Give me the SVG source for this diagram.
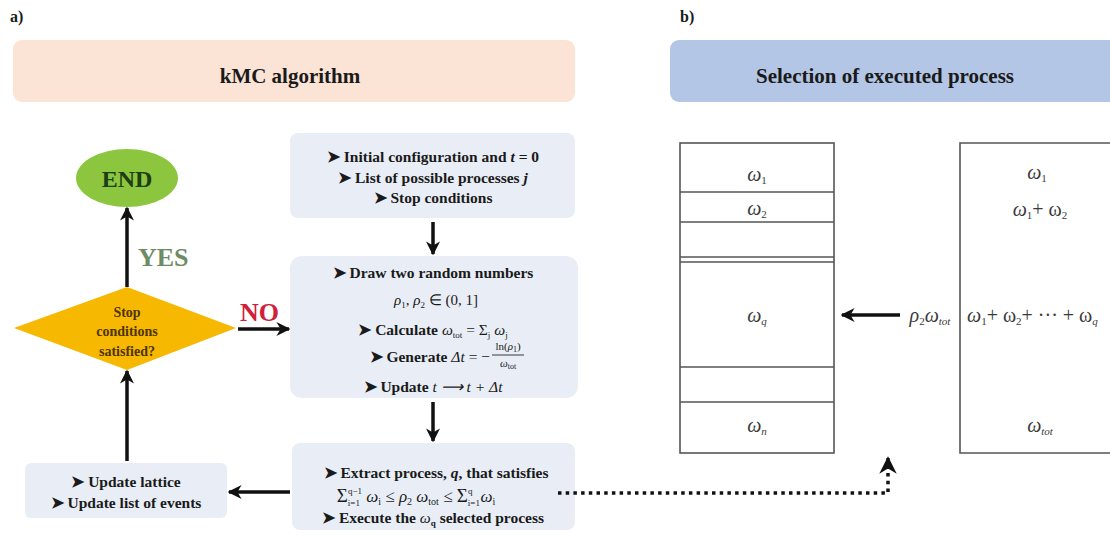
<svg xmlns="http://www.w3.org/2000/svg" width="1110" height="539" viewBox="0 0 1110 539">
<defs>
<marker id="ah" viewBox="0 0 10 10" refX="9" refY="5" markerWidth="4" markerHeight="4" orient="auto-start-reverse"><path d="M0,0 L10,5 L0,10 L3,5 z" fill="#111"/></marker>
<marker id="ahs" viewBox="0 0 10 10" refX="9" refY="5" markerWidth="5" markerHeight="5" orient="auto-start-reverse"><path d="M0,0 L10,5 L0,10 L3,5 z" fill="#111"/></marker>
</defs>
<style>
.t{font-family:"Liberation Serif",serif;font-weight:bold;fill:#1a1a1a;text-anchor:middle}
.s{font-size:15.5px}
.r{font-family:"Liberation Serif",serif;fill:#1a1a1a;font-size:15px}
.d{font-family:"Liberation Serif",serif;font-weight:bold;fill:#4e3400;text-anchor:middle;font-size:14px}
.m{font-family:"Liberation Serif",serif;font-style:italic;fill:#3a3a3a;text-anchor:middle;font-size:20px}
.box{fill:#e9eef6}
.cell{fill:none;stroke:#555;stroke-width:1.6}
.con{stroke:#111;stroke-width:3.5;fill:none}
</style>
<rect width="1110" height="539" fill="#fff"/>
<text x="10" y="22" class="t" style="text-anchor:start;font-size:16px">a)</text>
<text x="680" y="22" class="t" style="text-anchor:start;font-size:16px">b)</text>
<g id="title-a"><rect x="13" y="40" width="562" height="62" rx="9" fill="#fbe3d6"/><text x="290" y="83" class="t" style="font-size:21px">kMC algorithm</text></g>
<g id="title-b"><rect x="670" y="40" width="460" height="62" rx="9" fill="#b3c6e6"/><text x="885" y="83" class="t" style="font-size:21px">Selection of executed process</text></g>
<g id="end"><ellipse cx="127" cy="178" rx="51" ry="29" fill="#8cc63e"/><text x="127" y="187" class="t" style="font-size:24px;fill:#1d3d14">END</text></g>
<g id="decision"><polygon points="127,287 236,328 127,370 14,328" fill="#f6b800"/>
<text x="127" y="317" class="d">Stop</text>
<text x="127" y="336" class="d">conditions</text>
<text x="127" y="356" class="d">satisfied?</text></g>
<g id="init"><rect x="290" y="133" width="285" height="85" rx="8" class="box"/>
<text x="433" y="162" class="t s">➤ Initial configuration and <tspan font-style="italic">t</tspan> = 0</text>
<text x="433" y="183" class="t s">➤ List of possible processes <tspan font-style="italic">j</tspan></text>
<text x="433" y="203" class="t s">➤ Stop conditions</text></g>
<g id="draw"><rect x="290" y="256" width="288" height="142" rx="12" class="box"/>
<text x="433" y="278" class="t s">➤ Draw two random numbers</text>
<text x="436" y="305" class="r" text-anchor="middle"><tspan font-style="italic">ρ</tspan><tspan font-size="9" dy="3">1</tspan><tspan dy="-3">, </tspan><tspan font-style="italic">ρ</tspan><tspan font-size="9" dy="3">2</tspan><tspan dy="-3"> ∈ (0, 1]</tspan></text>
<text x="433" y="335" class="t s">➤ Calculate <tspan font-style="italic" font-weight="normal">ω</tspan><tspan font-size="9" dy="3" font-weight="normal">tot</tspan><tspan dy="-3" font-weight="normal"> = Σ</tspan><tspan font-size="9" dy="3" font-weight="normal">j</tspan><tspan dy="-3" font-style="italic" font-weight="normal"> ω</tspan><tspan font-size="9" dy="3" font-weight="normal">j</tspan></text>
<text x="490" y="362" class="t s" style="text-anchor:end">➤ Generate <tspan font-style="italic" font-weight="normal">Δt</tspan><tspan font-weight="normal"> = −</tspan></text>
<text x="508" y="350" class="r" style="font-size:11px;text-anchor:middle">ln(<tspan font-style="italic">ρ</tspan><tspan font-size="8" dy="2">1</tspan><tspan dy="-2">)</tspan></text>
<line x1="492" y1="355" x2="524" y2="355" stroke="#222" stroke-width="0.9"/>
<text x="508" y="367" class="r" style="font-size:11px;text-anchor:middle"><tspan font-style="italic">ω</tspan><tspan font-size="8" dy="2">tot</tspan></text>
<text x="433" y="392" class="t s">➤ Update <tspan font-style="italic" font-weight="normal">t ⟶ t + Δt</tspan></text></g>
<g id="extract"><rect x="292" y="443" width="283" height="87" rx="8" class="box"/>
<text x="436" y="478" class="t s">➤ Extract process, <tspan font-style="italic">q</tspan>, that satisfies</text>
<text x="416" y="502" class="r" text-anchor="middle" style="font-size:17px"><tspan font-size="19">Σ</tspan><tspan font-size="9" dy="4">i=1</tspan><tspan font-size="9" dx="-12" dy="-12">q−1</tspan><tspan dy="8" font-style="italic"> ω</tspan><tspan font-size="10" dy="3">i</tspan><tspan dy="-3"> ≤ </tspan><tspan font-style="italic">ρ</tspan><tspan font-size="10" dy="3">2</tspan><tspan dy="-3" font-style="italic"> ω</tspan><tspan font-size="10" dy="3">tot</tspan><tspan dy="-3"> ≤ </tspan><tspan font-size="19">Σ</tspan><tspan font-size="9" dy="4">i=1</tspan><tspan font-size="9" dx="-12" dy="-12">q</tspan><tspan dy="8" dx="8" font-style="italic">ω</tspan><tspan font-size="10" dy="3">i</tspan></text>
<text x="433" y="523" class="t s">➤ Execute the <tspan font-style="italic" font-weight="normal">ω</tspan><tspan font-size="9" dy="3">q</tspan><tspan dy="-3"> selected process</tspan></text></g>
<g id="update"><rect x="25" y="463" width="202" height="55" rx="6" class="box"/>
<text x="126" y="487" class="t s">➤ Update lattice</text>
<text x="126" y="508" class="t s">➤ Update list of events</text></g>
<g id="stack"><rect x="680" y="143" width="154" height="310" class="cell"/>
<line x1="680" y1="192" x2="834" y2="192" class="cell"/><line x1="680" y1="222" x2="834" y2="222" class="cell"/>
<line x1="680" y1="257" x2="834" y2="257" class="cell"/><line x1="680" y1="262" x2="834" y2="262" class="cell"/>
<line x1="680" y1="367" x2="834" y2="367" class="cell"/><line x1="680" y1="402" x2="834" y2="402" class="cell"/>
<text x="757" y="181" class="m">ω<tspan font-size="11" dy="3" font-style="normal">1</tspan></text>
<text x="757" y="215" class="m">ω<tspan font-size="11" dy="3" font-style="normal">2</tspan></text>
<text x="757" y="322" class="m">ω<tspan font-size="11" dy="3">q</tspan></text>
<text x="757" y="432" class="m">ω<tspan font-size="11" dy="3">n</tspan></text></g>
<g id="cumul"><path d="M1115,143 H960 V453 H1115" class="cell"/>
<text x="1037" y="179" class="m">ω<tspan font-size="11" dy="3" font-style="normal">1</tspan></text>
<text x="1040" y="216" class="m">ω<tspan font-size="11" dy="3" font-style="normal">1</tspan><tspan dy="-3" font-style="normal">+ ω</tspan><tspan font-size="11" dy="3" font-style="normal">2</tspan></text>
<text x="967" y="322" class="m" style="text-anchor:start">ω<tspan font-size="11" dy="3" font-style="normal">1</tspan><tspan dy="-3" font-style="normal">+ ω</tspan><tspan font-size="11" dy="3" font-style="normal">2</tspan><tspan dy="-3" font-style="normal">+ ··· + ω</tspan><tspan font-size="11" dy="3">q</tspan></text>
<text x="1040" y="432" class="m">ω<tspan font-size="11" dy="3">tot</tspan></text></g>
<text x="930" y="322" class="m">ρ<tspan font-size="11" dy="3" font-style="normal">2</tspan><tspan dy="-3">ω</tspan><tspan font-size="11" dy="3">tot</tspan></text>
<g id="connectors">
<line x1="127" y1="287" x2="127" y2="208" class="con" marker-end="url(#ah)"/>
<line x1="238" y1="329" x2="289" y2="329" class="con" marker-end="url(#ah)"/>
<line x1="433" y1="222" x2="433" y2="254" class="con" marker-end="url(#ah)"/>
<line x1="433" y1="402" x2="433" y2="441" class="con" marker-end="url(#ah)"/>
<line x1="290" y1="492" x2="229" y2="492" class="con" marker-end="url(#ah)"/>
<line x1="127" y1="461" x2="127" y2="371" class="con" marker-end="url(#ah)"/>
<line x1="900" y1="315" x2="842" y2="315" class="con" marker-end="url(#ah)"/>
<path d="M558,493 H888 V458" fill="none" stroke="#111" stroke-width="3.5" stroke-dasharray="3.5 4.2" marker-end="url(#ahs)"/>
</g>
<text x="138" y="266" class="t" style="text-anchor:start;font-size:26px;fill:#6e8c64">YES</text>
<text x="240" y="321" class="t" style="text-anchor:start;font-size:26px;fill:#d0203a">NO</text>
</svg>
